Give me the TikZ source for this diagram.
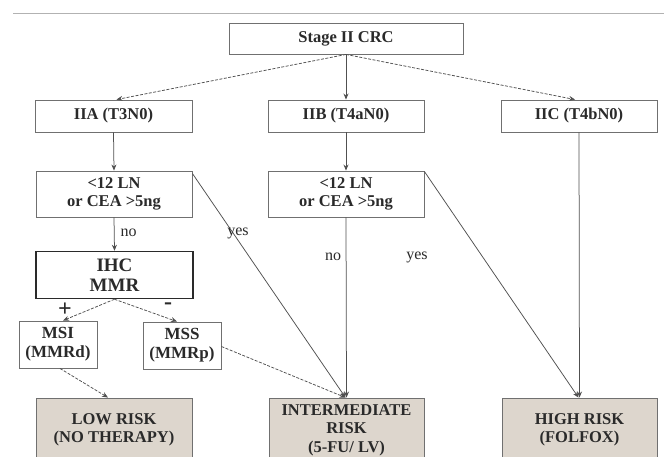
\documentclass[tikz,border=0pt]{standalone}
\usepackage{fontspec}
\setmainfont{Liberation Serif}
\usetikzlibrary{arrows.meta}
\definecolor{boxline}{HTML}{707070}
\definecolor{txt}{HTML}{2A2A2A}
\definecolor{riskfill}{HTML}{DDD6CD}
\definecolor{conn}{HTML}{505050}
\tikzset{
  box/.style={draw=boxline, line width=0.9pt, fill=white, text=txt, align=center,
    font=\fontsize{16.5}{18}\selectfont\bfseries, inner sep=0pt},
  thickbox/.style={box, draw=txt, line width=1.5pt, font=\fontsize{19}{20}\selectfont\bfseries},
  riskbox/.style={box, fill=riskfill, draw=boxline, font=\fontsize{16.5}{18.5}\selectfont\bfseries},
  conn/.style={draw=conn, line width=0.75pt, -{Stealth[length=6pt,width=5pt]}},
  dconn/.style={conn, dash pattern=on 3pt off 1.5pt},
  lbl/.style={text=txt, font=\fontsize{16}{17}\selectfont, inner sep=0pt},
  sign/.style={text=txt, font=\fontsize{24}{24}\selectfont\bfseries, inner sep=0pt}
}
\begin{document}
\begin{tikzpicture}[x=1pt,y=-1pt]
\useasboundingbox (0,0) rectangle (664,456);
\clip (0,0) rectangle (664,456);
\fill[white] (0,0) rectangle (664,456);
\coordinate (gl) at (13,13);
\coordinate (gr) at (664,13);
\draw[color=gray!60, line width=1pt] (gl) -- (gr);

\node[box, minimum width=234pt, minimum height=31pt] (stage) at (346,38.5) {Stage II CRC};
\node[box, minimum width=157pt, minimum height=32pt] (iia) at (113.5,116) {IIA (T3N0)};
\node[box, minimum width=156pt, minimum height=32pt] (iib) at (346,116) {IIB (T4aN0)};
\node[box, minimum width=156pt, minimum height=32pt] (iic) at (579,116) {IIC (T4bN0)};
\node[box, minimum width=156pt, minimum height=46pt] (ln1) at (114,194) {<12 LN\\or CEA >5ng};
\node[box, minimum width=156pt, minimum height=46pt] (ln2) at (346,194) {<12 LN\\or CEA >5ng};
\node[thickbox, minimum width=157pt, minimum height=47pt] (ihc) at (114.5,275) {IHC\\MMR};
\node[box, minimum width=78pt, minimum height=47pt, font=\fontsize{17}{19}\selectfont\bfseries] (msi) at (58,344.5) {MSI\\(MMRd)};
\node[box, minimum width=78pt, minimum height=47pt, font=\fontsize{17}{19}\selectfont\bfseries] (mss) at (182,345.5) {MSS\\(MMRp)};
\node[riskbox, minimum width=156pt, minimum height=64pt] (low) at (114,430) {LOW RISK\\(NO THERAPY)};
\node[riskbox, minimum width=155pt, minimum height=64pt] (inter) at (346.5,430) {INTERMEDIATE\\RISK\\(5-FU/ LV)};
\node[riskbox, minimum width=155pt, minimum height=64pt] (high) at (579.5,430) {HIGH RISK\\(FOLFOX)};

\draw[dconn] (stage.south) -- ([xshift=3pt]iia.north);
\draw[conn] (stage.south) -- (iib.north);
\draw[dconn] (stage.south) -- ([xshift=-4pt]iic.north);
\draw[conn] (iia.south) -- (ln1.north);
\draw[conn] (iib.south) -- (ln2.north);
\draw[conn] (ln1.south) -- node[lbl, right=6pt, pos=0.45] (no1) {no} (ihc.north);
\draw[conn] ([yshift=-3pt]ln1.north east) -- ([xshift=-1pt]inter.north);
\node[lbl] (yes1) at (238,233) {yes};
\draw[conn] (ln2.south) -- (inter.north);
\node[lbl] (no2) at (333,257) {no};
\draw[conn] ([yshift=-1pt]ln2.north east) -- ([xshift=-1pt]high.north);
\node[lbl] (yes2) at (417,257) {yes};
\draw[conn] (iic.south) -- (high.north);
\draw[dconn] (ihc.south) -- ([xshift=5pt]msi.north);
\draw[dconn] (ihc.south) -- ([xshift=-5pt]mss.north);
\node[sign] (plus) at (65,310) {+};
\node[sign] (minus) at (168,306) {-};
\draw[dconn] ([xshift=2pt]msi.south) -- ([xshift=-6pt]low.north);
\draw[dconn] ([yshift=-1pt]mss.east) -- ([xshift=-1pt]inter.north);
\end{tikzpicture}
\end{document}
